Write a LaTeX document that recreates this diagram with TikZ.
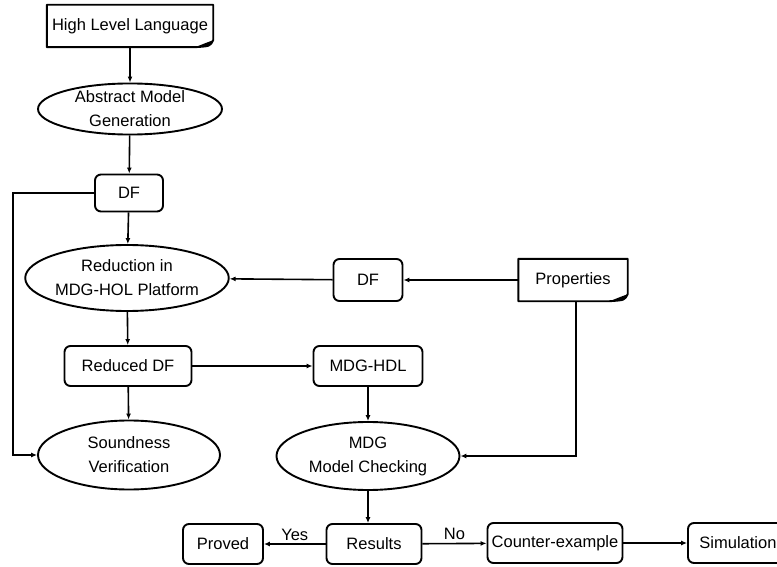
\documentclass[tikz,border=0pt]{standalone}
\usepackage{fontspec}
\setmainfont{Liberation Sans}
\usetikzlibrary{shapes.geometric,arrows.meta}
\begin{document}
\begin{tikzpicture}[x=1pt,y=-1pt,
  font=\fontsize{16.5}{24}\selectfont,
  box/.style={draw,line width=1.9pt,rounded corners=6pt,minimum height=40pt,inner sep=0pt,align=center},
  doc/.style={minimum height=42pt,inner sep=0pt,align=center},
  oval/.style={draw,ellipse,line width=1.9pt,inner sep=0pt,align=center},
  conn/.style={line width=1.6pt},
  arr/.style={conn,-{Latex[length=6pt,width=5pt]}},
  lbl/.style={above,inner sep=3pt}
]
\useasboundingbox (0,0) rectangle (777,567);

% document-shaped sources with a curled lower right corner
\newcommand{\docshape}[1]{%
  \draw[line width=1.9pt,line join=round]
    (#1.north west) -- (#1.north east) -- ([yshift=7pt]#1.south east)
    .. controls ([xshift=-3pt,yshift=1pt]#1.south east) .. ([xshift=-18pt]#1.south east)
    -- (#1.south west) -- cycle;
  \fill ([yshift=7pt]#1.south east)
    .. controls ([xshift=-3pt,yshift=1pt]#1.south east) .. ([xshift=-18pt]#1.south east)
    -- ([xshift=-8pt,yshift=4pt]#1.south east) -- cycle;}

\node[doc,minimum width=166pt] (hll) at (130,26) {High Level Language};
\docshape{hll}
\node[doc,minimum width=109pt] (props) at (573,280) {Properties};
\docshape{props}

% process ellipses
\node[oval,minimum width=184pt,minimum height=48pt] (amg) at (130,109) {Abstract Model\\Generation};
\node[oval,minimum width=190pt,minimum height=66pt] (red) at (127,278) {Reduction in\\MDG-HOL Platform};
\node[oval,minimum width=182pt,minimum height=69pt] (sound) at (129,455) {Soundness\\Verification};
\node[oval,minimum width=183pt,minimum height=68pt] (mdg) at (368,456) {MDG\\Model Checking};

% data boxes
\node[box,minimum width=68pt,minimum height=37pt] (df) at (129,193) {DF};
\node[box,minimum width=69pt,minimum height=42pt] (df2) at (368,280) {DF};
\node[box,minimum width=127pt] (rdf) at (128,366) {Reduced DF};
\node[box,minimum width=109pt] (hdl) at (368,366) {MDG-HDL};
\node[box,minimum width=95pt] (res) at (374,544) {Results};
\node[box,minimum width=80pt] (prv) at (223,544) {Proved};
\node[box,minimum width=135pt] (cex) at (555,543) {Counter-example};
\node[box,minimum width=100pt] (sim) at (738,543) {Simulation};

% connectors
\draw[arr] (hll) -- (amg);
\draw[arr] (amg) -- (df);
\draw[arr] (df) -- (red);
\draw[arr] (df.west) -- (13,193) |- (sound.west);
\draw[arr] (props) -- (df2);
\draw[arr] (df2) -- (red);
\draw[arr] (red) -- (rdf);
\draw[arr] (rdf) -- (hdl);
\draw[arr] (rdf) -- (sound);
\draw[arr] (hdl) -- (mdg);
\draw[arr] (props.south -| 576,0) |- (mdg.east);
\draw[arr] (mdg.south) -- (mdg.south |- res.north);
\draw[arr] (res) -- node[lbl]{Yes} (prv);
\draw[arr] (res) -- node[lbl]{No} (cex);
\draw[arr] (cex) -- (sim);
\end{tikzpicture}
\end{document}
